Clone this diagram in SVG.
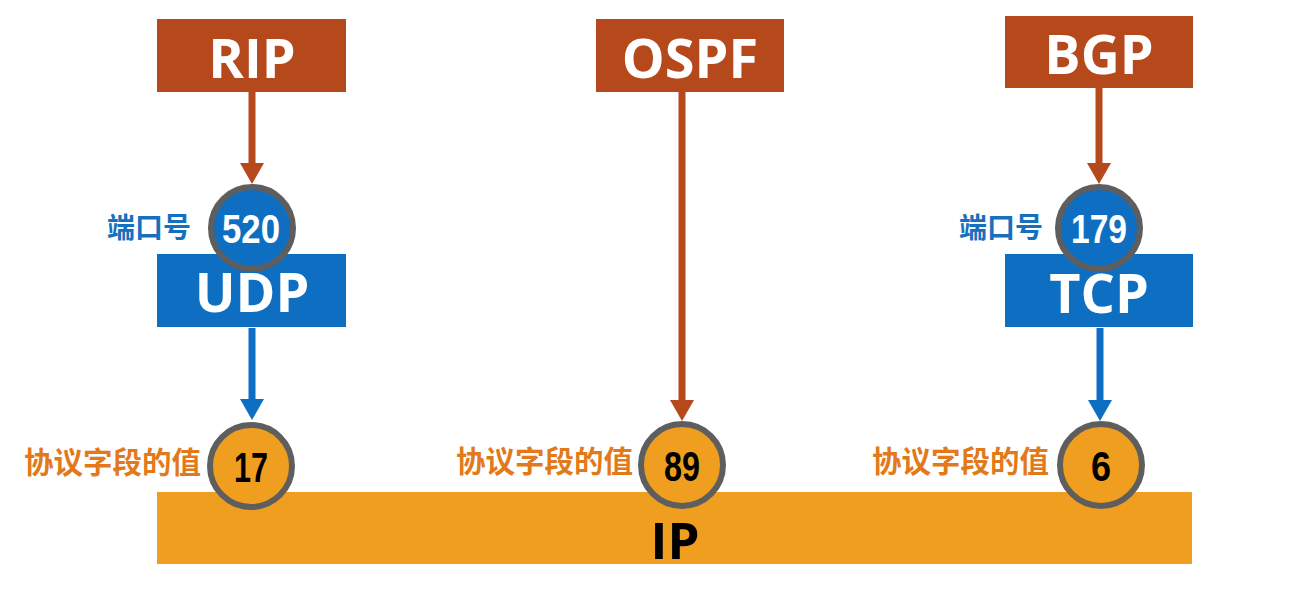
<svg xmlns="http://www.w3.org/2000/svg" width="1291" height="590" viewBox="0 0 1291 590">
<defs>
<style>
.rust{fill:#B5491B}
.blue{fill:#0E6FC2}
.orange{fill:#F09E1F}
.box{font-family:"Open Sans","Liberation Sans",sans-serif;font-weight:bold;fill:#fff;font-size:54px;text-anchor:middle}
.num{font-family:"Liberation Sans",Arial,sans-serif;font-weight:bold;font-size:40px;text-anchor:middle}
.num2{font-family:"Liberation Sans",Arial,sans-serif;font-weight:bold;font-size:42px;text-anchor:middle;fill:#000}
.circ{stroke:#5E5E5E;stroke-width:6}
.lblb{font-family:"Noto Sans CJK SC",sans-serif;font-weight:bold;font-size:28px;fill:#1670C0;text-anchor:end}
.lblo{font-family:"Noto Sans CJK SC",sans-serif;font-weight:bold;font-size:29.5px;fill:#E27A1B;text-anchor:end}
.ar{stroke-width:7;fill:none}
</style>
<marker id="mr" markerUnits="userSpaceOnUse" markerWidth="22" markerHeight="26" refX="10" refY="12" orient="auto" viewBox="0 0 22 26"><path d="M0,0 L21,12 L0,24 z" fill="#B5491B"/></marker>
<marker id="mb" markerUnits="userSpaceOnUse" markerWidth="22" markerHeight="26" refX="10" refY="12" orient="auto" viewBox="0 0 22 26"><path d="M0,0 L21,12 L0,24 z" fill="#0E6FC2"/></marker>
</defs>
<rect width="1291" height="590" fill="#fff"/>
<g id="ip">
<rect class="orange" x="157" y="492" width="1035" height="72"/>
<text x="675" y="559" font-family="'Open Sans','Liberation Sans',sans-serif" font-weight="bold" font-size="51" text-anchor="middle" fill="#000">IP</text>
</g>
<g id="connectors">
<line class="ar" x1="252" y1="92" x2="252" y2="173" stroke="#B5491B" marker-end="url(#mr)"/>
<line class="ar" x1="252" y1="328" x2="252" y2="409" stroke="#0E6FC2" marker-end="url(#mb)"/>
<line class="ar" x1="682" y1="92" x2="682" y2="410" stroke="#B5491B" marker-end="url(#mr)"/>
<line class="ar" x1="1099" y1="88" x2="1099" y2="173" stroke="#B5491B" marker-end="url(#mr)"/>
<line class="ar" x1="1100" y1="328" x2="1100" y2="410" stroke="#0E6FC2" marker-end="url(#mb)"/>
</g>
<g id="rip">
<rect class="rust" x="157" y="19" width="189" height="73"/>
<text class="box" x="252" y="78">RIP</text>
</g>
<g id="ospf">
<rect class="rust" x="596" y="19" width="188" height="73"/>
<text class="box" x="690" y="78">OSPF</text>
</g>
<g id="bgp">
<rect class="rust" x="1005" y="16" width="188" height="72"/>
<text class="box" x="1099" y="74">BGP</text>
</g>
<g id="udp">
<rect class="blue" x="157" y="254" width="189" height="73"/>
<text class="box" x="252" y="312">UDP</text>
</g>
<g id="tcp">
<rect class="blue" x="1005" y="254" width="188" height="73"/>
<text class="box" x="1099" y="313">TCP</text>
</g>
<g id="port520">
<circle class="blue circ" cx="252" cy="228" r="41"/>
<text class="num" x="251" y="243" fill="#fff" textLength="58" lengthAdjust="spacingAndGlyphs">520</text>
<text class="lblb" x="191" y="238">端口号</text>
</g>
<g id="port179">
<circle class="blue circ" cx="1099" cy="228" r="41"/>
<text class="num" x="1099" y="243" fill="#fff" textLength="56" lengthAdjust="spacingAndGlyphs">179</text>
<text class="lblb" x="1043" y="238">端口号</text>
</g>
<g id="proto17">
<circle class="orange circ" cx="251" cy="466" r="41"/>
<text class="num2" x="251" y="482" textLength="34" lengthAdjust="spacingAndGlyphs">17</text>
<text class="lblo" x="201" y="473">协议字段的值</text>
</g>
<g id="proto89">
<circle class="orange circ" cx="682" cy="465" r="41"/>
<text class="num2" x="682" y="481" textLength="36" lengthAdjust="spacingAndGlyphs">89</text>
<text class="lblo" x="633" y="472">协议字段的值</text>
</g>
<g id="proto6">
<circle class="orange circ" cx="1101" cy="465" r="41"/>
<text class="num2" x="1101" y="481" textLength="20" lengthAdjust="spacingAndGlyphs">6</text>
<text class="lblo" x="1049" y="472">协议字段的值</text>
</g>
</svg>
